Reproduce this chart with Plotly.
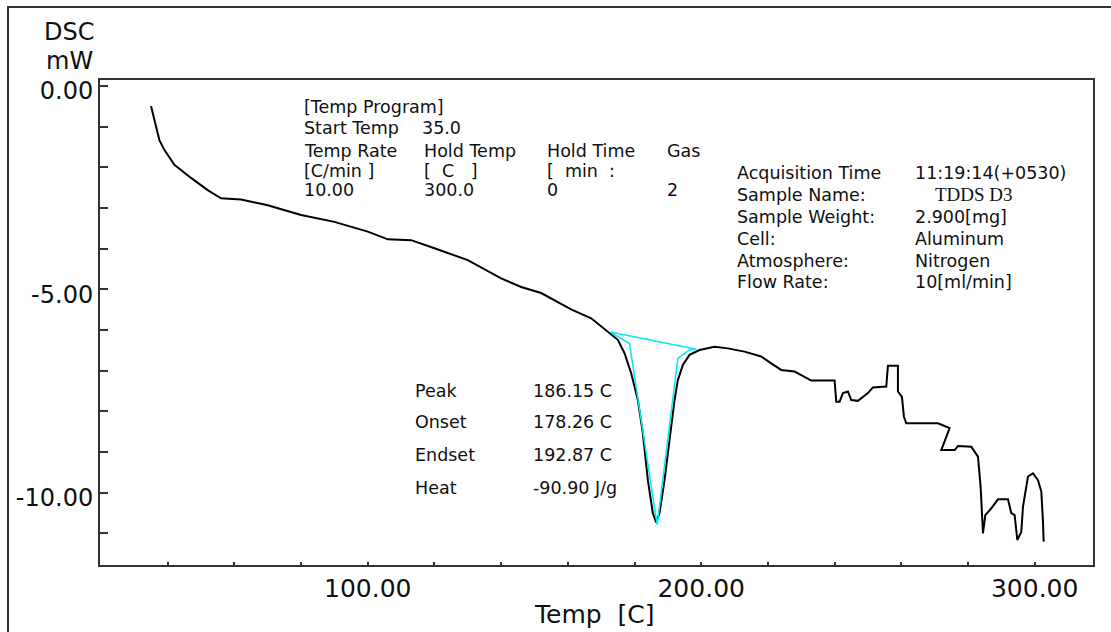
import plotly.graph_objects as go

# ---------------- data ----------------
temp_c = [35, 36, 37.5, 39, 42, 47, 52, 56, 62, 70, 80, 90, 100, 106, 113, 120, 130, 140, 146, 152,
          161, 167, 172, 175, 177, 179, 181, 182.5, 184, 185.5, 186.5, 187.5, 189, 190.5, 192, 193,
          194.5, 196.5, 199.5, 204, 208, 213, 218, 221, 224, 228, 231, 233, 240, 240.5, 241.5, 242.5,
          244, 245, 247, 250, 251.5, 255.5, 256, 259, 259, 260.2, 260.8, 261.5, 271, 274.5, 272, 276,
          277, 281, 283, 283.8, 284.5, 285.2, 287, 289, 292, 293, 294, 294.8, 296, 296.5, 298, 299.5,
          301, 302, 302.5, 302.7]
dsc_mw = [-0.49, -0.84, -1.33, -1.57, -1.94, -2.26, -2.56, -2.76, -2.79, -2.93, -3.17, -3.34, -3.58,
          -3.77, -3.79, -3.99, -4.28, -4.73, -4.94, -5.09, -5.49, -5.71, -6.04, -6.24, -6.57, -7.06,
          -7.72, -8.54, -9.69, -10.50, -10.73, -10.50, -9.69, -8.70, -7.72, -7.23, -6.86, -6.61, -6.49,
          -6.41, -6.45, -6.53, -6.65, -6.82, -6.98, -7.02, -7.15, -7.24, -7.24, -7.76, -7.76, -7.55,
          -7.51, -7.72, -7.74, -7.55, -7.41, -7.39, -6.88, -6.88, -7.51, -7.64, -8.13, -8.29, -8.29,
          -8.41, -8.95, -8.95, -8.85, -8.87, -9.11, -9.85, -11.00, -10.55, -10.38, -10.16, -10.16,
          -10.50, -10.55, -11.16, -10.96, -10.34, -9.60, -9.52, -9.69, -9.97, -10.71, -11.20]

baseline_t = [172.8, 198.5]
baseline_y = [-6.05, -6.47]
tangent_t = [172.8, 178.5, 186.8, 193.0, 196.5, 198.5]
tangent_y = [-6.05, -6.33, -10.79, -6.69, -6.49, -6.47]

x_tickvals = list(range(40, 301, 20))
x_ticktext = ["100.00" if v == 100 else "200.00" if v == 200 else "300.00" if v == 300 else "" for v in x_tickvals]
y_tickvals = list(range(-11, 1))
y_ticktext = {0: "0.00", -5: "-5.00", -10: "-10.00"}
y_ticktext = [y_ticktext.get(v, "") for v in y_tickvals]

program_rows = [
    ["[Temp Program]"],
    ["Start Temp", "35.0"],
    ["Temp Rate", "Hold Temp", "Hold Time", "Gas"],
    ["[C/min ]", "[\u00a0\u00a0C\u00a0\u00a0\u00a0]", "[\u00a0\u00a0min\u00a0\u00a0:", ""],
    ["10.00", "300.0", "0", "2"],
]
info_labels = ["Acquisition Time", "Sample Name:", "Sample Weight:", "Cell:", "Atmosphere:", "Flow Rate:"]
info_values = ["11:19:14(+0530)", "TDDS D3", "2.900[mg]", "Aluminum", "Nitrogen", "10[ml/min]"]
peak_labels = ["Peak", "Onset", "Endset", "Heat"]
peak_values = ["186.15 C", "178.26 C", "192.87 C", "-90.90 J/g"]

# ---------------- layout geometry (pixels) ----------------
W, H = 1111, 632
L, R, T, B = 100, 18, 80, 67
pw, ph = W - L - R, H - T - B


def px(x, y):
    return (x - L) / pw, (H - B - y) / ph


FONT = "DejaVu Sans"
TXT = "#101010"

fig = go.Figure()
fig.add_trace(go.Scatter(x=temp_c, y=dsc_mw, mode="lines",
                         line=dict(color="black", width=2), showlegend=False))
fig.add_trace(go.Scatter(x=baseline_t, y=baseline_y, mode="lines",
                         line=dict(color="#00e8f0", width=1.5), showlegend=False))
fig.add_trace(go.Scatter(x=tangent_t, y=tangent_y, mode="lines",
                         line=dict(color="#00e8f0", width=1.5), showlegend=False))

annotations = []


def add_text(text, x, y, size=17.5, family=FONT, anchor="left"):
    xp, yp = px(x, y)
    annotations.append(dict(text=text, x=xp, y=yp, xref="paper", yref="paper",
                            xanchor=anchor, yanchor="middle", showarrow=False,
                            font=dict(family=family, size=size, color=TXT)))


# program block
prog_y = [107, 128, 151, 171, 190]
col_x = [302, 422, 545, 665]
add_text(program_rows[0][0], 302, prog_y[0])
add_text(program_rows[1][0], 302, prog_y[1])
add_text(program_rows[1][1], 420, prog_y[1])
for r in (2, 3, 4):
    for c, t in enumerate(program_rows[r]):
        if t:
            add_text(t, col_x[c], prog_y[r])

# info block
info_y = [173, 195, 217, 239, 261, 282]
for lab, val, yy in zip(info_labels, info_values, info_y):
    add_text(lab, 735, yy)
    if val == "TDDS D3":
        add_text(val, 933, yy - 1, size=19, family="Liberation Serif")
    else:
        add_text(val, 913, yy)

# peak block
peak_y = [391, 422, 455, 488]
for lab, val, yy in zip(peak_labels, peak_values, peak_y):
    add_text(lab, 413, yy)
    add_text(val, 531, yy)

# axis titles
add_text("DSC", 69, 32, size=24, anchor="center")
add_text("mW", 69, 61, size=24, anchor="center")
add_text("Temp\u00a0\u00a0[C]", 594, 614, size=25, anchor="center")

# outer border
x0, y1 = px(8, 7)
x1, y0 = px(1125, 645)

fig.update_layout(
    width=W, height=H,
    margin=dict(l=L, r=R, t=T, b=B, pad=0),
    paper_bgcolor="white", plot_bgcolor="white",
    font=dict(family=FONT, color=TXT),
    annotations=annotations,
    shapes=[dict(type="rect", xref="paper", yref="paper", x0=x0, x1=x1, y0=y0, y1=y1,
                 line=dict(color="#333", width=2), fillcolor="rgba(0,0,0,0)", layer="above")],
    xaxis=dict(range=[19.7, 317.5], tickvals=x_tickvals, ticktext=x_ticktext,
               ticks="inside", ticklen=3, tickwidth=2, tickcolor="#333",
               showline=True, linecolor="#333", linewidth=2, mirror=True,
               showgrid=False, zeroline=False,
               tickfont=dict(family=FONT, size=25, color=TXT)),
    yaxis=dict(range=[-11.775, 0.147], tickvals=y_tickvals, ticktext=y_ticktext,
               ticks="inside", ticklen=8, tickwidth=2, tickcolor="#333",
               showline=True, linecolor="#333", linewidth=2, mirror=True,
               showgrid=False, zeroline=False, ticklabelshift=5,
               tickfont=dict(family=FONT, size=24, color=TXT)),
)

fig.write_html("out.html")
